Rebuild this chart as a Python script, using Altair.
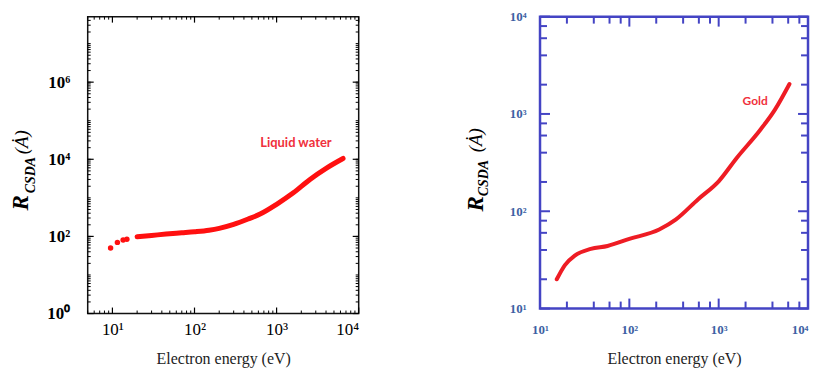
import altair as alt
import pandas as pd

# ---------------- data ----------------
water_sparse_e = [9.5, 11.5, 13.5, 15.0]
water_sparse_r = [50, 70, 81, 84]
water_e = [20, 30, 45, 70, 100, 150, 200, 300, 450, 630, 1000, 1600, 2550, 4100, 6450]
water_r = [98, 106, 115, 124, 132, 145, 162, 205, 282, 380, 680, 1350, 3000, 6000, 10500]

gold_e = [15.4, 19, 24.5, 37, 57, 100, 216, 330, 590, 1000, 1600, 2900, 4250, 6200]
gold_r = [20, 28, 35, 41, 44, 52, 65, 82, 133, 203, 355, 680, 1100, 2030]

left_x_major = [10, 100, 1000, 10000]
left_y_major = [1, 100, 10000, 1000000]
right_x_major = [10, 100, 1000, 10000]
right_y_major = [10, 100, 1000, 10000]

left_x_minor = [k * 10 ** n for n in range(0, 4) for k in range(2, 10) if 5 <= k * 10 ** n < 10000]
left_y_minor = [k * 10 ** n for n in range(0, 8) for k in range(1, 10) if 1 < k * 10 ** n < 5e7]
right_x_minor = [k * 10 ** n for n in range(1, 4) for k in (2, 4, 6, 8)]
right_y_minor = [k * 10 ** n for n in range(1, 4) for k in (2, 4, 6, 8)]

SUP = "['10⁰','10¹','10²','10³','10⁴','10⁵','10⁶','10⁷']"
LABEL_EXPR = SUP + "[round(log(datum.value)/LN10)]"

SERIF = "Liberation Serif"


def tick_layers(xscale, yscale, xaxis, yaxis, xvals, yvals, length, color, width_px, height_px, sw):
    dx = pd.DataFrame({"v": xvals})
    dy = pd.DataFrame({"v": yvals})
    base_x = alt.Chart(dx).mark_rule(color=color, strokeWidth=sw)
    base_y = alt.Chart(dy).mark_rule(color=color, strokeWidth=sw)
    X = alt.X("v:Q", scale=xscale, axis=xaxis)
    Y = alt.Y("v:Q", scale=yscale, axis=yaxis)
    return [
        base_x.encode(x=X, y=alt.value(height_px), y2=alt.value(height_px - length)),
        base_x.encode(x=X, y=alt.value(0), y2=alt.value(length)),
        base_y.encode(y=Y, x=alt.value(0), x2=alt.value(length)),
        base_y.encode(y=Y, x=alt.value(width_px), x2=alt.value(width_px - length)),
    ]


def ytitle_layers(xr, yr, xc, yc, xa, ya, color, s1, s2, s3):
    one = pd.DataFrame({"t": [0]})
    r = alt.Chart(one).mark_text(text="R", angle=270, font=SERIF, fontSize=s1, fontStyle="italic",
                                 fontWeight="bold", color=color, baseline="middle", align="center"
                                 ).encode(x=alt.value(xr), y=alt.value(yr))
    c = alt.Chart(one).mark_text(text="CSDA", angle=270, font=SERIF, fontSize=s2, fontStyle="italic",
                                 fontWeight="bold", color=color, baseline="middle", align="center"
                                 ).encode(x=alt.value(xc), y=alt.value(yc))
    a = alt.Chart(one).mark_text(text="(Ȧ)", angle=270, font=SERIF, fontSize=s3, fontStyle="italic",
                                 color=color, baseline="middle", align="center"
                                 ).encode(x=alt.value(xa), y=alt.value(ya))
    return [r, c, a]


# ---------------- left panel ----------------
LW, LH = 272, 298
lx = alt.Scale(type="log", domain=[5, 10000], nice=False)
ly = alt.Scale(type="log", domain=[1, 5e7], nice=False)

lxaxis = alt.Axis(
    values=left_x_major, labelExpr=LABEL_EXPR, ticks=False, domain=False, grid=False,
    labelFont=SERIF, labelFontSize=17, labelColor="black", labelPadding=8,
    title="Electron energy (eV)", titleFont=SERIF, titleFontSize=16, titleFontWeight="normal",
    titleColor="#222", titlePadding=13)
lyaxis = alt.Axis(
    values=left_y_major, labelExpr=LABEL_EXPR, ticks=False, domain=False, grid=False,
    labelFont=SERIF, labelFontSize=17, labelFontWeight="bold", labelColor="black",
    labelPadding=18, title=None)

water_df = pd.DataFrame({"E": water_e, "R": water_r})
water_sp_df = pd.DataFrame({"E": water_sparse_e, "R": water_sparse_r})

water_line = alt.Chart(water_df).mark_line(color="#ff1010", strokeWidth=5, strokeCap="round",
                                           interpolate="monotone").encode(
    x=alt.X("E:Q", scale=lx, axis=lxaxis),
    y=alt.Y("R:Q", scale=ly, axis=lyaxis),
)
water_pts = alt.Chart(water_sp_df).mark_circle(color="#ff1010", size=30, opacity=1).encode(
    x=alt.X("E:Q", scale=lx, axis=lxaxis), y=alt.Y("R:Q", scale=ly, axis=lyaxis))

water_label = alt.Chart(pd.DataFrame({"t": ["Liquid water"]})).mark_text(
    font="Lato", fontWeight="bold", fontSize=13, color="#f0303c", align="center", baseline="middle"
).encode(text="t:N", x=alt.value(209), y=alt.value(127))

left = alt.layer(
    water_line, water_pts,
    *tick_layers(lx, ly, lxaxis, lyaxis, left_x_minor, left_y_minor, 3, "black", LW, LH, 1),
    *tick_layers(lx, ly, lxaxis, lyaxis, left_x_major, left_y_major, 6, "black", LW, LH, 1.2),
    water_label,
    *ytitle_layers(-67, 187, -57, 159, -66, 126, "black", 23, 14, 19),
).properties(width=LW, height=LH, view=alt.ViewBackground(stroke="#111", strokeWidth=1.5))

# ---------------- right panel ----------------
RW, RH = 269, 293
BLUE = "#4444c4"
LBLUE = "#3d5fa3"
rx = alt.Scale(type="log", domain=[10, 10000], nice=False)
ry = alt.Scale(type="log", domain=[10, 10000], nice=False)

rxaxis = alt.Axis(
    values=right_x_major, labelExpr=LABEL_EXPR, ticks=False, domain=False, grid=False,
    labelFont=SERIF, labelFontSize=13, labelFontWeight="bold", labelColor=LBLUE, labelPadding=15,
    labelAlign={"condition": {"test": "datum.value >= 10000", "value": "right"}, "value": "center"},
    title="Electron energy (eV)", titleFont=SERIF, titleFontSize=16, titleFontWeight="normal",
    titleColor="#222", titlePadding=14)
ryaxis = alt.Axis(
    values=right_y_major, labelExpr=LABEL_EXPR, ticks=False, domain=False, grid=False,
    labelFont=SERIF, labelFontSize=13, labelFontWeight="bold", labelColor=LBLUE,
    labelPadding=14, title=None)

gold_df = pd.DataFrame({"E": gold_e, "R": gold_r})
gold_line = alt.Chart(gold_df).mark_line(color="#ee1c24", strokeWidth=4, interpolate="monotone",
                                         strokeCap="round").encode(
    x=alt.X("E:Q", scale=rx, axis=rxaxis),
    y=alt.Y("R:Q", scale=ry, axis=ryaxis),
)
gold_label = alt.Chart(pd.DataFrame({"t": ["Gold"]})).mark_text(
    font="Lato", fontWeight="bold", fontSize=12, color="#f0303c", align="center", baseline="middle"
).encode(text="t:N", x=alt.value(216), y=alt.value(85))

right = alt.layer(
    gold_line,
    *tick_layers(rx, ry, rxaxis, ryaxis, right_x_minor, right_y_minor, 7, BLUE, RW, RH, 2),
    *tick_layers(rx, ry, rxaxis, ryaxis, right_x_major, right_y_major, 10, BLUE, RW, RH, 2),
    gold_label,
    *ytitle_layers(-64, 188, -56, 162, -64, 124, "black", 23, 14, 19),
).properties(width=RW, height=RH, view=alt.ViewBackground(stroke=BLUE, strokeWidth=2.5))

chart = alt.hconcat(left, right, spacing=182, bounds="flush").properties(
    padding={"left": 1, "top": 0, "right": 0, "bottom": 0}
).configure_view(stroke=None)

chart.save("out.html", embed_options={"renderer": "svg", "actions": False})
